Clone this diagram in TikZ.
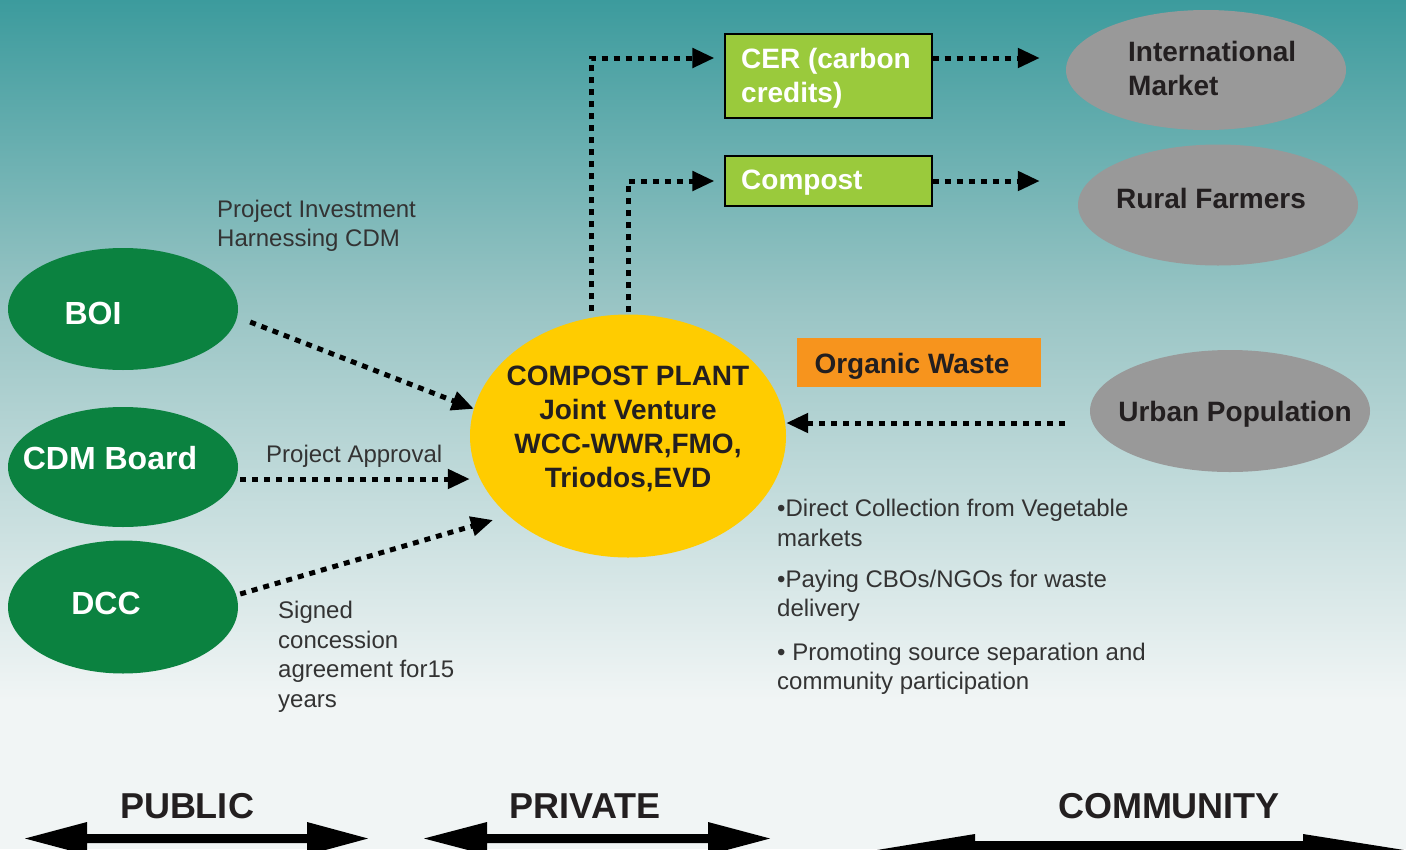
\documentclass[tikz,border=0pt]{standalone}
\usepackage{fontspec}
\setmainfont{Liberation Sans}
\usetikzlibrary{arrows.meta,shapes.geometric}
\definecolor{bgtop}{RGB}{60,155,157}
\definecolor{bgmid}{RGB}{152,196,196}
\definecolor{bgbot}{RGB}{241,245,245}
\definecolor{dgreen}{RGB}{11,130,64}
\definecolor{lgreen}{RGB}{154,202,60}
\definecolor{cyellow}{RGB}{255,204,0}
\definecolor{cgray}{RGB}{153,153,153}
\definecolor{corange}{RGB}{247,148,29}
\definecolor{dtext}{RGB}{35,31,32}
\definecolor{ltext}{RGB}{51,51,51}
\tikzset{
 ell/.style={ellipse, draw=none, inner sep=0pt},
 gbox/.style={draw=black, line width=1.2pt, fill=lgreen, minimum width=207pt, inner sep=0pt},
 bigw/.style={font=\fontsize{32}{36}\selectfont\bfseries, text=white, inner sep=0pt},
 boxw/.style={font=\fontsize{28}{34}\selectfont\bfseries, text=white, align=left, inner sep=0pt},
 grayt/.style={font=\fontsize{28}{34}\selectfont\bfseries, text=dtext, align=left, inner sep=0pt},
 plantt/.style={font=\fontsize{28}{34}\selectfont\bfseries, text=dtext, align=center, inner sep=0pt},
 lbl/.style={font=\fontsize{24}{29.5}\selectfont, text=ltext, align=left, inner sep=0pt, anchor=west},
 bottomt/.style={font=\fontsize{36}{40}\selectfont\bfseries, text=dtext, inner sep=0pt},
 dotline/.style={line width=5pt, dash pattern=on 6pt off 6pt, -{Triangle[length=22pt,width=19pt]}},
}
\begin{document}
\begin{tikzpicture}[x=1pt,y=-1pt]
\useasboundingbox (0,0) rectangle (1406,849);
\clip (0,0) rectangle (1406,849);
% background
\shade[top color=bgtop, bottom color=bgmid] (0,0) rectangle (1406,301);
\shade[top color=bgmid, bottom color=bgbot] (0,300) rectangle (1406,701);
\fill[bgbot] (0,700) rectangle (1406,849);

% ellipses
\node[ell, fill=dgreen, minimum width=230pt, minimum height=122pt] (boi) at (123,309) {};
\node[ell, fill=dgreen, minimum width=230pt, minimum height=120pt] (cdm) at (123,467) {};
\node[ell, fill=dgreen, minimum width=230pt, minimum height=133pt] (dcc) at (123,607) {};
\node[ell, fill=cyellow, minimum width=316pt, minimum height=243pt] (plant) at (628,436) {};
\node[ell, fill=cgray, minimum width=280pt, minimum height=120pt] (intl) at (1206,70) {};
\node[ell, fill=cgray, minimum width=280pt, minimum height=121pt] (rural) at (1218,205) {};
\node[ell, fill=cgray, minimum width=280pt, minimum height=122pt] (urban) at (1230,411) {};

% boxes
\node[gbox, minimum height=84pt] (cer) at (828.5,76) {};
\node[gbox, minimum height=50pt] (compostbox) at (828.5,181) {};
\node[fill=corange, minimum width=244pt, minimum height=49pt, inner sep=0pt] (organic) at (919,362.5) {};

% texts in shapes
\node[bigw] (boit) at (93,313) {BOI};
\node[bigw] (cdmt) at (110,458) {CDM Board};
\node[bigw] (dcct) at (106,603) {DCC};
\node[plantt] (plantt) at (628,429) {COMPOST PLANT\\Joint Venture\\WCC-WWR,FMO,\\Triodos,EVD};
\node[boxw, anchor=west] (cert) at (741,78) {CER (carbon\\credits)};
\node[boxw, anchor=west] (compostt) at (741,183) {Compost};
\node[grayt, anchor=west] (intlt) at (1128,68) {International\\Market};
\node[grayt] (ruralt) at (1211,198) {Rural Farmers};
\node[grayt] (urbant) at (1235,414) {Urban Population};
\node[grayt] (organict) at (912,366) {Organic Waste};

% labels
\node[lbl] (l1) at (217,226) {Project Investment\\Harnessing CDM};
\node[lbl] (l2) at (266,456) {Project Approval};
\node[lbl] (l3) at (278,657) {Signed\\concession\\agreement for15\\years};
\node[lbl] (b1) at (777,523) {•Direct Collection from Vegetable\\markets};
\node[lbl] (b2) at (777,596) {•Paying CBOs/NGOs for waste\\delivery};
\node[lbl] (b3) at (777,669) {• Promoting source separation and\\community participation};

% connectors
\draw[dotline] ([xshift=12pt,yshift=-13pt]boi.east) -- (plant.170);
\draw[dotline] ([xshift=2pt,yshift=-12pt]cdm.east) -- ([yshift=-12pt]cdm.east -| plant.west);
\draw[dotline] ([xshift=2pt,yshift=13pt]dcc.east) -- ([xshift=-135pt,yshift=-84pt]plant.center);
\draw[dotline] ([xshift=-25pt,yshift=-12pt]urban.west) -- ([yshift=-12pt]urban.west -| plant.east);
\draw[dotline] ([xshift=-37pt,yshift=3pt]plant.north) |- ([xshift=-10pt,yshift=18pt]cer.west);
\draw[dotline] ([yshift=2pt]plant.north) |- ([xshift=-10pt]compostbox.west);
\draw[dotline] ([yshift=18pt]cer.east) -- ([xshift=-26pt,yshift=12pt]intl.west);
\draw[dotline] (compostbox.east) -- ([xshift=-38pt,yshift=24pt]rural.west);

% bottom
\node[bottomt] (pub) at (187,806) {PUBLIC};
\node[bottomt] (pri) at (585,806) {PRIVATE};
\node[bottomt] (com) at (1169,806) {COMMUNITY};
\fill[black] (25,838.5) -- (87,822) -- (87,834) -- (307,834) -- (307,822) -- (368,838.5) -- (307,855) -- (307,843) -- (87,843) -- (87,855) -- cycle;
\fill[black] (424,838.5) -- (487,822) -- (487,834) -- (708,834) -- (708,822) -- (770,838.5) -- (708,855) -- (708,843) -- (487,843) -- (487,855) -- cycle;
\fill[black] (877,850) -- (975,834) -- (975,841) -- (1303,841) -- (1303,834) -- (1404,850) -- (1303,866) -- (1303,859) -- (975,859) -- (975,866) -- cycle;
\end{tikzpicture}
\end{document}
